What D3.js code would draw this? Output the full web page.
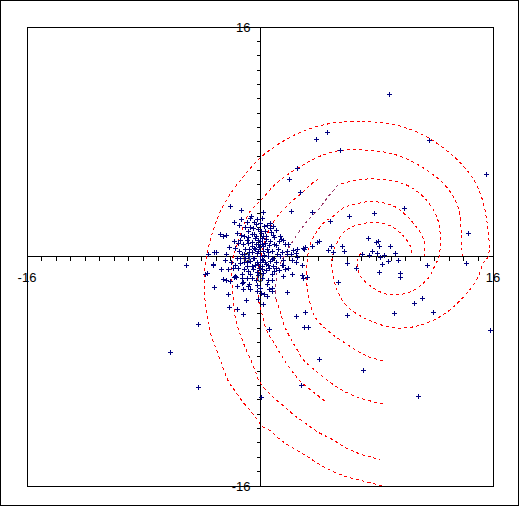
<!DOCTYPE html>
<html><head><meta charset="utf-8">
<script src="https://cdn.jsdelivr.net/npm/d3@7"></script>
<style>html,body{margin:0;padding:0;background:#fff;} svg{display:block;}</style>
</head><body>
<svg id="c" width="519" height="506"></svg>
<script>
// ---------- data ----------
const axisDomain = [-16, 16];
const labelValues = [-16, 0, 16];
const labelText = ["-16", "0", "16"];
const tickValues = d3.range(-15, 16);

// red dashed spiral arms (data units)
const spiralOuter = [[8.38,-15.98],[7.91,-15.86],[7.00,-15.63],[6.08,-15.40],[5.16,-15.05],[4.25,-14.59],[3.32,-14.00],[2.41,-13.43],[1.49,-12.85],[0.69,-12.15],[0.12,-11.81],[-0.12,-11.46],[-0.57,-10.87],[-1.15,-10.18],[-1.72,-9.37],[-2.18,-8.68],[-2.46,-7.98],[-2.87,-6.82],[-3.44,-5.20],[-3.79,-2.87],[-3.83,-1.25],[-3.67,0],[-3.30,1.53],[-2.87,2.80],[-2.18,4.15],[-1.03,5.70],[0.12,6.98],[2.41,8.49],[4.70,9.25],[7.00,9.41],[9.29,9.18],[11.58,8.26],[13.88,6.40],[15.02,4.66],[15.60,2.34],[15.67,0],[15.33,-0.44],[15.00,-1.37],[14.23,-2.53],[12.61,-4.04],[10.78,-4.85],[9.17,-4.96],[7.34,-4.38],[5.97,-3.46],[5.28,-2.30],[4.93,-0.79],[4.98,0],[5.28,0.95],[5.97,1.88],[7.34,2.34],[8.72,2.23],[9.63,1.65],[10.32,0.72],[10.44,0]];
const spiralSecond = [[13.88,0],[13.83,1.53],[13.65,3.27],[12.96,4.66],[11.58,5.93],[9.29,7.10],[6.54,7.44],[4.70,7.21],[2.41,6.05],[1.03,5.01],[0,3.85],[-0.69,3.13],[-1.17,2.02],[-1.60,0.72],[-1.84,0],[-1.95,-1.25],[-1.84,-2.87],[-1.65,-4.50],[-1.15,-6.00],[-0.46,-7.63],[0,-8.79],[0.81,-9.72],[1.60,-10.41],[2.41,-11.11],[3.21,-11.69],[4.01,-12.26],[4.93,-12.73],[5.85,-13.31],[6.88,-13.77],[7.69,-14.00],[8.26,-14.17]];
const spiralThird = [[11.29,0],[11.24,1.18],[10.78,2.00],[10.10,2.80],[9.41,3.39],[8.49,3.74],[7.34,3.81],[6.42,3.62],[5.73,3.39],[5.02,2.80],[4.36,2.34],[3.79,1.53],[3.44,0.83],[3.27,0],[3.21,-1.72],[3.37,-2.99],[3.79,-4.24],[4.82,-5.31],[5.97,-6.12],[7.34,-6.94],[8.49,-7.28]];
const spiralFourthA = [[6.92,0.24],[6.68,-0.35],[6.88,-1.32],[7.45,-1.95],[8.26,-2.47],[9.15,-2.68],[10.44,-2.41],[11.58,-1.48],[12.04,-0.56],[12.30,0],[12.27,2.34],[11.58,3.74],[10.44,4.78],[9.29,5.24],[7.69,5.41],[6.54,5.31],[5.39,5.01]];
const spiralFourthMid = [[5.39,5.01],[4.70,4.20],[4.01,3.27],[3.32,2.57],[2.64,1.65],[2.18,0.95],[1.65,0],[1.26,-0.79],[1.10,-1.74],[1.10,-2.99]];
const spiralFourthB = [[1.10,-2.99],[1.38,-3.83],[1.72,-4.94],[2.53,-6.47],[2.96,-7.17],[3.85,-8.00],[4.70,-8.68],[5.51,-9.25],[6.77,-9.83],[8.49,-10.30]];
const spiralFifth = [[4.01,5.41],[3.56,5.08],[2.87,4.43],[2.18,3.85],[1.60,3.27],[1.03,2.57],[0.58,1.74],[0.28,0.83],[0.03,-0.21],[-0.12,-1.25],[-0.12,-2.87],[0.14,-4.04],[0.48,-5.22],[0.89,-5.91],[1.72,-7.30],[2.20,-8.00],[2.87,-8.79],[3.56,-9.37],[4.59,-10.18]];

// scatter points (x, y)
const pointsOuter = [[8.88,11.34],[3.87,8.19],[4.59,8.68],[5.52,7.43],[11.59,8.11],[15.55,5.76],[2.51,6.17],[2.02,5.41],[2.77,4.50],[-2.04,3.51],[-1.31,3.27],[0.23,3.13],[2.11,3.20],[3.54,3.10],[9.86,3.39],[7.86,3.04],[6.08,2.83],[4.84,2.48],[-0.60,2.80],[-1.29,2.62],[-1.79,2.42],[-0.28,2.28],[-1.42,2.23],[-1.05,2.07],[-0.69,2.07],[0.92,2.16],[0.69,2.00],[-1.56,1.65],[-1.33,1.53],[-2.52,1.46],[-2.34,1.51],[-0.80,1.37],[-0.39,1.58],[0.05,1.81],[0.19,1.41],[0.96,1.37],[1.44,1.25],[1.31,1.06],[14.28,1.65],[7.44,1.30],[8.08,1.08],[7.98,1.02],[4.08,1.08],[3.90,1.02],[8.17,0.72],[8.96,0.74],[4.85,0.72],[5.61,0.72],[3.10,0.68],[3.54,0.70],[3.03,0.54],[1.72,0.86],[1.84,0.19],[2.48,0.26],[5.04,0.31],[5.79,0.35],[7.46,0.09],[7.02,0.14],[7.67,0.38],[8.04,0.24],[8.53,0.07],[9.24,0.26],[-3.14,0.33],[-3.03,0.33],[8.26,-0.02],[8.76,-0.33],[9.45,-0.21],[8.41,-0.49],[8.14,-1.06],[9.63,-1.15],[9.63,-1.43],[5.99,-0.44],[6.60,-0.82],[5.33,-1.76],[11.46,-0.56],[14.12,-0.44],[4.70,0.42],[2.86,-1.32],[2.94,-1.50],[3.25,-1.41],[-3.67,-1.13],[-2.70,-0.90],[-3.14,-2.11],[-2.34,-1.65],[-2.17,-2.64],[-2.11,-3.50],[-1.55,-3.63],[-1.20,-3.99],[-4.24,-4.68],[-1.77,-1.44],[-1.66,-1.44],[-1.26,-1.53],[-1.19,-1.76],[-0.76,-1.90],[-0.23,-2.00],[0.29,-2.60],[0.80,-1.65],[0.85,-2.18],[1.82,-2.46],[0.64,-2.30],[3.10,-3.85],[2.49,-4.12],[3.03,-4.89],[3.27,-4.89],[0.62,-5.03],[4.08,-7.12],[7.04,-7.90],[2.84,-8.99],[0.10,-9.83],[5.94,-4.05],[9.23,-3.92],[10.55,-3.22],[11.11,-2.87],[11.90,-3.85],[15.78,-5.09],[10.82,-9.76],[-4.29,-9.07],[-6.19,-6.68],[-5.09,-0.56],[-3.25,-0.49],[-3.78,-1.20],[-2.52,-1.60],[-1.84,-0.79],[-3.21,-0.56],[-2.41,-0.21],[-2.75,1.58]];
const pointsCore = [[-0.69,2.69],[0.69,2.34],[0.46,2.18],[-1.08,1.41],[-0.80,1.76],[-0.12,1.95],[0.34,1.76],[0.92,1.53],[1.38,1.41],[1.60,1.18],[-0.34,1.30],[0,1.06],[0.12,0.84],[0.34,0.95],[-0.57,0.72],[-1.15,0.84],[-1.49,0.95],[-1.72,0.61],[-1.03,0.49],[-0.74,0.49],[-0.34,0.49],[-0.12,0.37],[0.46,0.49],[0.80,0.37],[1.26,0.49],[1.84,0.37],[2.29,0.42],[2.52,0.49],[2.98,0.61],[-3.56,0.14],[-1.60,-0.09],[-1.26,0.14],[-0.80,0.02],[-0.46,-0.09],[0,0.02],[0.23,-0.21],[0.57,0.02],[0.92,-0.09],[1.38,0.02],[1.60,-0.21],[2.18,-0.21],[2.52,0],[2.87,-0.56],[-1.72,-0.56],[-1.38,-0.44],[-0.92,-0.68],[-0.34,-0.56],[0.12,-0.68],[0.57,-0.56],[0.92,-0.68],[1.49,-0.56],[1.72,-0.84],[-1.72,-1.37],[-1.26,-1.25],[-0.80,-1.02],[-0.57,-1.48],[0.23,-1.13],[0.80,-1.25],[1.60,-1.37],[2.18,-1.25],[-2.06,-1.72],[-1.26,-1.83],[-0.80,-2.07],[0,-2.18],[0.46,-1.95],[0.80,-2.42],[-0.23,-2.42],[-0.14,1.18],[0.14,1.32],[-0.28,0.84],[-0.07,0.63],[0.21,0.35],[-0.21,0.21],[-0.55,0.28],[0.14,-0.14],[-0.21,-0.35],[0.34,-0.35],[-0.69,-0.28],[-1.03,-0.07],[0.69,-0.28],[1.10,-0.35],[-0.07,-0.77],[-0.48,-0.90],[0.41,-0.97],[-0.14,-1.32],[-0.83,0.97],[0.62,0.77],[0.96,0.90],[-0.55,1.60],[0.41,1.25],[-1.10,-0.35],[-1.44,0.35],[1.10,-0.77],[-0.89,-1.53],[0.55,-1.67],[-0.41,2.44],[0.14,2.71]];
const pointsDense = [[-0.89,1.18],[-0.55,1.04],[-0.28,1.46],[0.07,1.67],[0.41,1.46],[0.69,1.11],[-0.14,0.90],[0.21,0.70],[-0.41,0.56],[-0.76,0.28],[-1.10,0.14],[-1.38,-0.07],[-0.89,-0.35],[-0.55,-0.63],[-0.14,-0.49],[0.28,0.07],[0.55,0.28],[0.83,-0.14],[1.17,0.14],[1.51,0.28],[0.41,-0.49],[0.14,-0.90],[-0.21,-1.11],[-0.69,-1.25],[-1.10,-0.90],[-1.51,-0.77],[0.62,-0.77],[0.96,-1.04],[1.31,-0.97],[-0.28,-1.67],[0.14,-1.53],[-0.69,-2.30],[0.07,-2.51],[0.48,-2.78],[-1.17,-2.30],[-1.58,-2.09],[0.28,2.16],[-0.21,2.64],[-0.89,2.44],[0.76,1.74],[1.10,0.77],[1.93,0.90],[2.13,0.14],[-1.38,1.18],[-1.79,1.11],[-2.13,0.63],[-2.34,0.14],[-2.00,-0.35],[-2.20,-0.90],[-0.48,2.02],[0,2.37],[1.10,1.88],[1.58,-0.56],[1.93,-0.77],[2.48,-0.35],[-0.14,-2.99],[0.21,-3.34],[-0.96,-3.06],[-0.41,-0.07],[0,-0.35]];

// ---------- drawing ----------
const svg = d3.select("#c");
const x = d3.scaleLinear().domain(axisDomain).range([27, 493]);
const y = d3.scaleLinear().domain(axisDomain).range([486, 27]);
const snap = v => Math.floor(v) + 0.5;

svg.append("rect").attr("x", 0.5).attr("y", 0.5).attr("width", 518).attr("height", 505)
  .attr("fill", "#fff").attr("stroke", "#000").attr("shape-rendering", "crispEdges");

const L = snap(x(axisDomain[0])), R = snap(x(axisDomain[1]));
const T = snap(y(axisDomain[1])), B = snap(y(axisDomain[0]));
svg.append("rect").attr("x", L).attr("y", T).attr("width", R - L).attr("height", B - T)
  .attr("fill", "none").attr("stroke", "#000").attr("shape-rendering", "crispEdges");

const x0 = snap(x(0)), y0 = snap(y(0));
const ax = svg.append("g").attr("stroke", "#000").attr("shape-rendering", "crispEdges");
ax.append("line").attr("x1", L).attr("x2", R).attr("y1", y0).attr("y2", y0);
ax.append("line").attr("x1", x0).attr("x2", x0).attr("y1", T).attr("y2", B);
ax.selectAll(".tx").data(tickValues).join("line").attr("class", "tx")
  .attr("x1", d => snap(x(d))).attr("x2", d => snap(x(d))).attr("y1", y0).attr("y2", y0 + 4);
ax.selectAll(".ty").data(tickValues).join("line").attr("class", "ty")
  .attr("y1", d => snap(y(d))).attr("y2", d => snap(y(d))).attr("x1", x0 - 4).attr("x2", x0);

const lab = svg.append("g").attr("font-family", "'Liberation Sans', Arial, sans-serif")
  .attr("font-size", "13px").attr("fill", "#000");
lab.selectAll(".lx").data(labelValues).join("text").attr("class", "lx")
  .attr("x", d => x(d)).attr("y", y0 + 25).attr("text-anchor", "middle")
  .text((d, i) => labelText[i]);
lab.selectAll(".ly").data(labelValues).join("text").attr("class", "ly")
  .attr("x", x0 - 10).attr("y", d => y(d) + 5).attr("text-anchor", "end")
  .text((d, i) => labelText[i]);

const line = d3.line().x(d => x(d[0])).y(d => y(d[1])).curve(d3.curveCatmullRom.alpha(0.5));
const curves = [
  {d: spiralOuter, c: "#ff0000"}, {d: spiralSecond, c: "#ff0000"}, {d: spiralThird, c: "#ff0000"},
  {d: spiralFourthA, c: "#ff0000"}, {d: spiralFourthMid, c: "#993366"}, {d: spiralFourthB, c: "#ff0000"},
  {d: spiralFifth, c: "#ff0000"}
];
svg.append("g").selectAll("path").data(curves).join("path")
  .attr("d", d => line(d.d)).attr("fill", "none").attr("stroke", d => d.c)
  .attr("stroke-width", 1).attr("stroke-dasharray", "3,3").attr("shape-rendering", "crispEdges");

const pts = pointsOuter.concat(pointsCore, pointsDense);
svg.append("g").attr("stroke", "#000080").attr("stroke-width", 1).attr("shape-rendering", "crispEdges")
  .selectAll("path").data(pts).join("path")
  .attr("transform", d => `translate(${Math.round(x(d[0]))},${Math.round(y(d[1]))})`)
  .attr("d", "M-2,0.5H3M0.5,-2V3");
</script>
</body></html>
